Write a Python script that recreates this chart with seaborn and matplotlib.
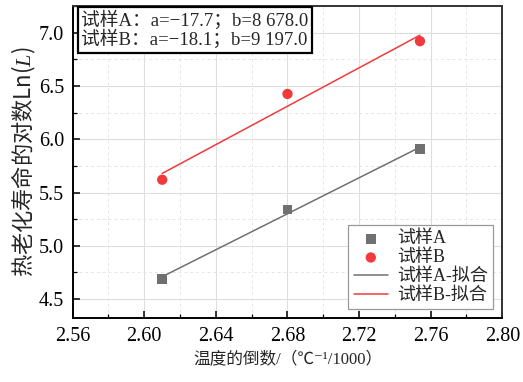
import numpy as np
import pandas as pd
import matplotlib
matplotlib.use("Agg")
import matplotlib.pyplot as plt
import seaborn as sns
from matplotlib.ticker import MultipleLocator, FixedLocator

# ---- data ----
inv_temp = [2.610, 2.680, 2.754]
lnL_A = [4.69, 5.34, 5.906]
lnL_B = [5.62, 6.425, 6.92]
x_ticks = [2.56, 2.60, 2.64, 2.68, 2.72, 2.76, 2.80]
y_ticks = [4.5, 5.0, 5.5, 6.0, 6.5, 7.0]
series_names = ["试样A", "试样B"]
fit_names = ["试样A-拟合", "试样B-拟合"]
fit_text = ["试样A：a=−17.7；b=8 678.0", "试样B：a=−18.1；b=9 197.0"]

col_A = "#707070"
col_B = "#f23a3c"

sns.set_theme(style="white")
FAM = ["Liberation Serif", "Noto Sans CJK SC", "DejaVu Sans"]
plt.rcParams["font.family"] = FAM
plt.rcParams["mathtext.fontset"] = "custom"
plt.rcParams["mathtext.it"] = "Liberation Serif:italic"
plt.rcParams["mathtext.rm"] = "Liberation Serif"
plt.rcParams["axes.unicode_minus"] = True

df = pd.DataFrame({
    "x": inv_temp * 2,
    "y": lnL_A + lnL_B,
    "s": [series_names[0]] * 3 + [series_names[1]] * 3,
})

fig = plt.figure(figsize=(5.23, 3.82), dpi=100)
ax = fig.add_axes([0.139, 0.1668, 0.8214, 0.8175])

sns.scatterplot(data=df[df.s == series_names[0]], x="x", y="y", marker="s", s=50,
                color=col_A, edgecolor="none", label=series_names[0], ax=ax, zorder=3)
sns.scatterplot(data=df[df.s == series_names[1]], x="x", y="y", marker="o", s=55,
                color=col_B, edgecolor="none", label=series_names[1], ax=ax, zorder=3)
sns.regplot(data=df[df.s == series_names[0]], x="x", y="y", scatter=False, ci=None,
            color=col_A, label=fit_names[0], line_kws={"lw": 1.1}, ax=ax)
sns.regplot(data=df[df.s == series_names[1]], x="x", y="y", scatter=False, ci=None,
            color=col_B, label=fit_names[1], line_kws={"lw": 1.1}, ax=ax)

ax.set_xlim(2.56, 2.80)
ax.set_ylim(4.32, 7.25)
ax.xaxis.set_major_locator(FixedLocator(x_ticks))
ax.yaxis.set_major_locator(FixedLocator(y_ticks))
ax.set_xticklabels([f"{v:.2f}" for v in x_ticks])
ax.set_yticklabels([f"{v:.1f}" for v in y_ticks])
ax.xaxis.set_minor_locator(MultipleLocator(0.02))
ax.yaxis.set_minor_locator(MultipleLocator(0.25))

ax.grid(True, which="major", color="#dedede", lw=0.8, ls="-")
ax.grid(True, which="minor", color="#e6e6e6", lw=0.7, ls=(0, (3, 3)))
ax.set_axisbelow(True)

ax.tick_params(which="major", direction="in", length=5, width=1.1, colors="black",
               labelsize=14.5, bottom=True, left=True, top=False, right=False, pad=6)
ax.tick_params(which="minor", direction="in", length=3, width=0.9, colors="black",
               bottom=True, left=True, top=False, right=False)
for lab in ax.get_xticklabels() + ax.get_yticklabels():
    lab.set_family(FAM)

for side in ["left", "bottom"]:
    ax.spines[side].set_color("black")
    ax.spines[side].set_linewidth(1.4)
for side in ["top", "right"]:
    ax.spines[side].set_color("#333333")
    ax.spines[side].set_linewidth(1.4)

ax.set_xlabel("温度的倒数/（℃⁻¹/1000）", fontsize=12, family=FAM, labelpad=4)
ax.set_ylabel("热老化寿命的对数Ln($L$)", fontsize=16, family="Noto Sans CJK SC", labelpad=1)

ax.text(0.02, 0.985, fit_text[0] + "\n" + fit_text[1], transform=ax.transAxes,
        ha="left", va="top", fontsize=13.5, family=FAM, linespacing=1.0,
        bbox=dict(boxstyle="square,pad=0.2", fc="white", ec="black", lw=1.6))

h, l = ax.get_legend_handles_labels()
order = [series_names[0], series_names[1], fit_names[0], fit_names[1]]
hh = [h[l.index(o)] for o in order]
leg = ax.legend(hh, order, loc="lower right", frameon=True,
                fancybox=False, edgecolor="#999999", framealpha=1,
                borderaxespad=0.5, handlelength=1.9, labelspacing=0.1,
                handletextpad=0.5, borderpad=0.3, prop={"family": FAM, "size": 13})
leg.get_frame().set_linewidth(0.9)

fig.savefig("out.png", dpi=100)
